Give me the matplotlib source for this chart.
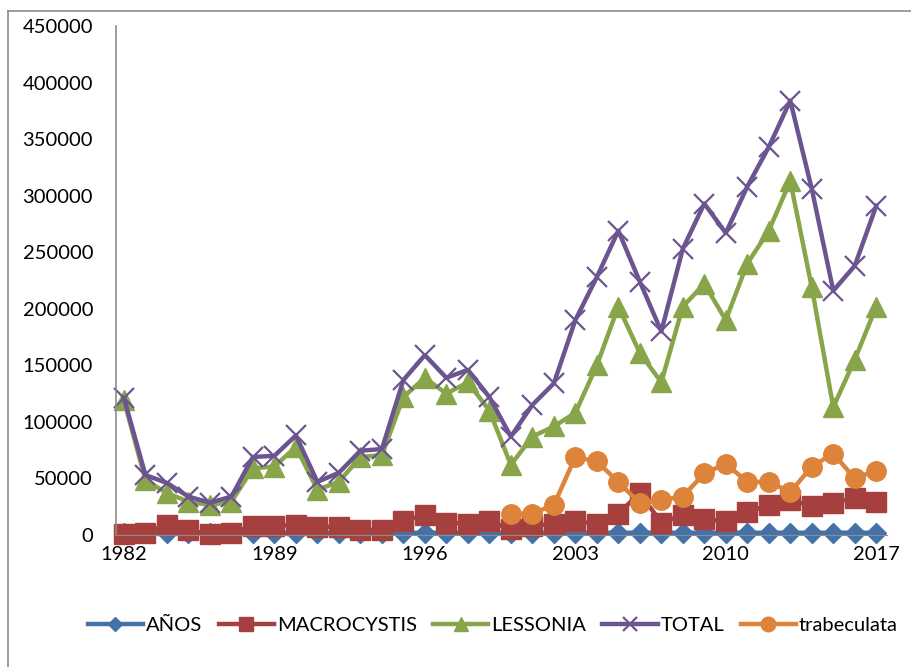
import numpy as np
from matplotlib import pyplot as plt
from matplotlib.lines import Line2D

anios = list(range(1982, 2018))

macrocystis = [1000, 2000, 9000, 4500, 500, 2000, 8000, 8000, 9000, 7500,
               7000, 4500, 4500, 12500, 18000, 11000, 10000, 12000, 5000, 8000,
               10000, 12000, 10000, 19000, 37000, 11000, 17500, 14000, 12000, 20000,
               26500, 31000, 25500, 28500, 32500, 29500]

lessonia = [119000, 48500, 37000, 29500, 26500, 29500, 59000, 60500, 78000, 40000,
            47000, 69000, 70500, 122000, 139000, 125000, 135000, 110000, 62000, 87000,
            96000, 108000, 150000, 202000, 161000, 135000, 202000, 222000, 190000, 240000,
            269000, 313000, 219000, 113000, 155000, 202000]

total = [121000, 53000, 46000, 34000, 28500, 34000, 69000, 70000, 88000, 47000,
         55000, 74500, 76000, 137000, 159000, 139000, 146000, 122000, 87000, 115000,
         134000, 190000, 228000, 269000, 224000, 180000, 253000, 293000, 267000, 308000,
         343000, 384000, 306000, 216000, 238000, 291000]

trab_years = list(range(2000, 2018))
trabeculata = [19000, 19000, 26500, 69000, 65000, 47000, 28000, 31000, 34000, 54500,
               63000, 47000, 47000, 38000, 60500, 72000, 50000, 57000]

plt.rcParams['font.family'] = ['Lato', 'DejaVu Sans']

fig = plt.figure(figsize=(9.11, 6.67), dpi=100)
ax = fig.add_axes([116 / 911, 1 - 535 / 667, (887 - 116) / 911, (535 - 26) / 667])

lw = 3.2
ax.plot(anios, anios, color='#4472A8', lw=lw, marker='D', ms=10, label='AÑOS', clip_on=False)
ax.plot(anios, macrocystis, color='#A5403F', lw=lw, marker='s', ms=14, label='MACROCYSTIS', clip_on=False)
ax.plot(anios, lessonia, color='#88A54A', lw=lw, marker='^', ms=14, label='LESSONIA', clip_on=False)
ax.plot(anios, total, color='#6B5490', lw=lw, marker='x', ms=14, mew=1.6, label='TOTAL', clip_on=False)
ax.plot(trab_years, trabeculata, color='#DD833A', lw=lw, marker='o', ms=14, label='trabeculata', clip_on=False)

ax.set_xlim(1982 - 0.37, 2017 + 0.5)
ax.set_ylim(0, 450000)
ax.set_yticks(np.arange(0, 450001, 50000))
ax.set_yticklabels([str(v) for v in range(0, 450001, 50000)])
ax.set_xticks(range(1982, 2018, 7))
ax.tick_params(axis='y', length=0, pad=16.5, labelsize=14.5)
ax.tick_params(axis='x', length=0, pad=8, labelsize=14.5)

for s in ['top', 'right']:
    ax.spines[s].set_visible(False)
ax.spines['left'].set_color('#8C8C8C')
ax.spines['left'].set_linewidth(1.2)
ax.spines['bottom'].set_color('#8C8C8C')

ax.legend(loc='center', bbox_to_anchor=(0.541, 1 - 625 / 667), bbox_transform=fig.transFigure,
          ncol=5, frameon=False, fontsize=14.5, handlelength=2.75, handletextpad=0.15,
          columnspacing=0.8, markerscale=0.75)

# chart area border (only top and left visible)
fig.add_artist(Line2D([8 / 911, 1], [1 - 11 / 667] * 2, color='#8C8C8C', lw=1.2))
fig.add_artist(Line2D([8 / 911] * 2, [0, 1 - 11 / 667], color='#8C8C8C', lw=1.2))

fig.savefig('out.png', dpi=100)
